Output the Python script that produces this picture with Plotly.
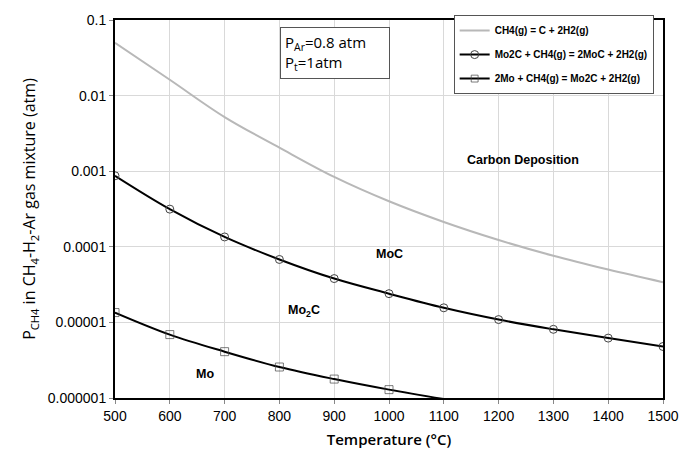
import math
import plotly.graph_objects as go

temps = [500, 600, 700, 800, 900, 1000, 1100, 1200, 1300, 1400, 1500]
carbon = [0.050, 0.0162, 0.0052, 0.00205, 0.00084, 0.00040, 0.000213, 0.000123, 0.000076, 0.000050, 0.000034]
moc = [0.00087, 0.000315, 0.000135, 0.000068, 0.000038, 0.000024, 0.0000156, 0.0000109, 0.0000081, 0.0000062, 0.0000048]
mo2c_t = [500, 600, 700, 800, 900, 1000, 1100]
mo2c = [0.0000135, 0.0000069, 0.0000041, 0.00000257, 0.00000178, 0.00000129, 0.00000097]

ytick_vals = [0.1, 0.01, 0.001, 0.0001, 0.00001, 0.000001]
ytick_text = ["0.1", "0.01", "0.001", "0.0001", "0.00001", "0.000001"]
xtick_vals = [500, 600, 700, 800, 900, 1000, 1100, 1200, 1300, 1400, 1500]

ymin = 1e-6
mo2c_sizes = [8 if v >= ymin else 0 for v in mo2c]

fig = go.Figure()
fig.add_trace(go.Scatter(x=temps, y=carbon, mode="lines", line=dict(color="#b8b8b8", width=2, shape="spline"),
                         name="CH4(g) = C + 2H2(g)", legendgroup="a"))
fig.add_trace(go.Scatter(x=temps, y=moc, mode="lines+markers", line=dict(color="black", width=2, shape="spline"),
                         marker=dict(symbol="circle-open", size=8, color="#444", line=dict(width=1)),
                         name="Mo2C + CH4(g) = 2MoC + 2H2(g)", legendgroup="b"))
fig.add_trace(go.Scatter(x=mo2c_t, y=mo2c, mode="lines+markers", line=dict(color="black", width=2, shape="spline"),
                         marker=dict(symbol="square-open", size=mo2c_sizes, color="#444", line=dict(width=1)),
                         name="2Mo + CH4(g) = Mo2C + 2H2(g)", legendgroup="c"))

fig.update_layout(
    width=692, height=461,
    margin=dict(l=115, r=29, t=15, b=63),
    paper_bgcolor="white", plot_bgcolor="white",
    font=dict(family="Liberation Sans, Arial", color="black", size=14),
    showlegend=True,
    legend=dict(x=0.618, y=1.013, xanchor="left", yanchor="top", traceorder="grouped",
                bgcolor="white", bordercolor="#555", borderwidth=1,
                font=dict(size=10, family="Liberation Sans, Arial", weight="bold"),
                itemwidth=30, tracegroupgap=5),
    xaxis=dict(range=[500, 1500], tickvals=xtick_vals, showgrid=True, gridcolor="#d9d9d9",
               showline=True, linecolor="black", linewidth=2, mirror=True, ticks="outside",
               ticklen=4, tickcolor="#888",
               title=dict(text="Temperature (°C)", font=dict(family="Open Sans, Liberation Sans", size=15, weight=600),
                          standoff=12)),
    yaxis=dict(type="log", range=[-6, -1], tickvals=ytick_vals, ticktext=ytick_text, showgrid=True,
               gridcolor="#d9d9d9", showline=True, linecolor="black", linewidth=2, mirror=True,
               ticks="outside", ticklen=4, tickcolor="#888",
               title=dict(text="P<sub>CH4</sub> in CH<sub>4</sub>-H<sub>2</sub>-Ar gas mixture (atm)",
                          font=dict(family="Open Sans, Liberation Sans", size=16), standoff=8)),
)

fig.add_annotation(x=0.301, y=0.982, xref="paper", yref="paper", xanchor="left", yanchor="top",
                   text="P<sub>Ar</sub>=0.8 atm<br>P<sub>t</sub>=1atm", showarrow=False, align="left",
                   font=dict(family="Open Sans, Liberation Sans", size=15), bordercolor="#555", borderwidth=1,
                   bgcolor="white", borderpad=4, width=100)

labels = [("Carbon Deposition", 1245, 0.0014), ("MoC", 1000, 0.00008), ("Mo<sub>2</sub>C", 845, 0.000014), ("Mo", 664, 0.0000021)]
for txt, xx, yy in labels:
    fig.add_annotation(x=xx, y=math.log10(yy), text=txt, showarrow=False,
                       font=dict(family="Liberation Sans, Arial", size=12.5, weight="bold"))

fig.write_html("out.html")
